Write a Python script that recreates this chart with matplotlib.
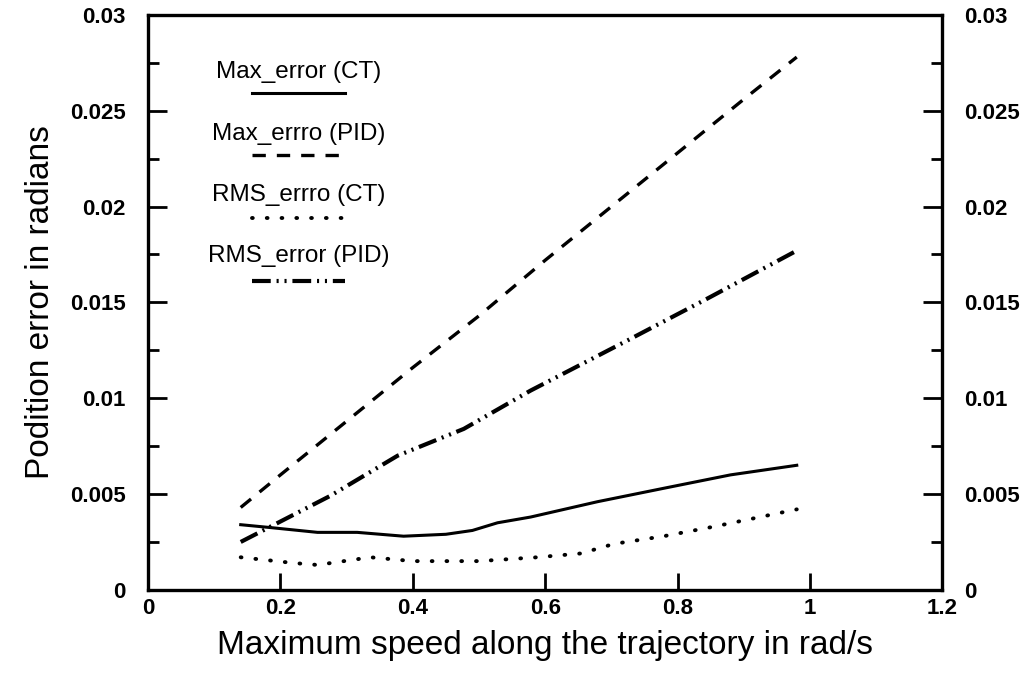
"""
Position error vs maximum trajectory speed for CT and PID controllers.
Saves the figure to out.png.
"""

import matplotlib
matplotlib.use("Agg")
import matplotlib.pyplot as plt
from matplotlib.ticker import MultipleLocator

# speed along the trajectory (rad/s)
speed_max_ct = [0.14, 0.185, 0.256, 0.316, 0.386, 0.45, 0.49, 0.528, 0.578, 0.679, 0.779, 0.88, 0.98]
max_error_ct = [0.0034, 0.00325, 0.0030, 0.0030, 0.0028, 0.0029, 0.0031, 0.0035, 0.0038, 0.0046, 0.0053, 0.0060, 0.0065]

speed_max_pid = [0.14, 0.2, 0.3, 0.4, 0.5, 0.6, 0.7, 0.8, 0.9, 0.98]
max_error_pid = [0.0043, 0.0060, 0.0088, 0.0116, 0.0143, 0.0172, 0.0200, 0.0228, 0.0256, 0.0278]

speed_rms_ct = [0.14, 0.22, 0.256, 0.336, 0.40, 0.50, 0.588, 0.654, 0.704, 0.779, 0.855, 0.98]
rms_error_ct = [0.0017, 0.0014, 0.0013, 0.0017, 0.0015, 0.0015, 0.0017, 0.0019, 0.0024, 0.0028, 0.0033, 0.0042]

speed_rms_pid = [0.14, 0.185, 0.275, 0.377, 0.477, 0.578, 0.729, 0.845, 0.98]
rms_error_pid = [0.0025, 0.0033, 0.0049, 0.0070, 0.0084, 0.0104, 0.0131, 0.0152, 0.0177]

x_ticks = [0, 0.2, 0.4, 0.6, 0.8, 1.0, 1.2]
x_tick_labels = ["0", "0.2", "0.4", "0.6", "0.8", "1", "1.2"]
y_ticks = [0, 0.005, 0.01, 0.015, 0.02, 0.025, 0.03]
y_tick_labels = ["0", "0.005", "0.01", "0.015", "0.02", "0.025", "0.03"]

legend_labels = ["Max_error (CT)", "Max_errro (PID)", "RMS_errro (CT)", "RMS_error (PID)"]
legend_text_y = [0.0270, 0.0238, 0.0206, 0.0174]
legend_line_y = [0.0259, 0.0227, 0.0194, 0.0161]
legend_x = [0.157, 0.298]

FONT = "Liberation Sans"

STYLES = [
    dict(linestyle="-", linewidth=2.2),
    dict(linestyle=(0, (4.0, 3.3)), linewidth=2.4),
    dict(linestyle=(0, (0.2, 3.6)), linewidth=2.8, dash_capstyle="round"),
    dict(linestyle=(0, (4.5, 1.4, 0.5, 1.4, 0.5, 1.4)), linewidth=3.0),
]


def main():
    plt.rcParams["font.family"] = FONT
    fig = plt.figure(figsize=(10.21, 6.78), dpi=100)
    ax = fig.add_axes([0.145, 0.13, 0.778, 0.848])

    series = [
        (speed_max_ct, max_error_ct),
        (speed_max_pid, max_error_pid),
        (speed_rms_ct, rms_error_ct),
        (speed_rms_pid, rms_error_pid),
    ]
    for (xs, ys), style in zip(series, STYLES):
        ax.plot(xs, ys, color="black", **style)

    # hand-made legend: label above a short sample of the line
    for label, ty, ly, style in zip(legend_labels, legend_text_y, legend_line_y, STYLES):
        ax.text(sum(legend_x) / 2, ty, label, ha="center", va="center",
                fontsize=17.5, family=FONT)
        ax.plot(legend_x, [ly, ly], color="black", **style)

    ax.set_xlim(0, 1.2)
    ax.set_ylim(0, 0.03)
    ax.set_xticks(x_ticks, x_tick_labels, fontweight="bold", fontsize=16)
    ax.set_yticks(y_ticks, y_tick_labels, fontweight="bold", fontsize=16)
    ax.yaxis.set_minor_locator(MultipleLocator(0.0025))

    ax.tick_params(axis="y", which="both", direction="in", left=True, right=True,
                   labelleft=True, labelright=True, width=2, pad=16)
    ax.tick_params(axis="y", which="major", length=14)
    ax.tick_params(axis="y", which="minor", length=8)
    ax.tick_params(axis="x", direction="in", top=False, length=12, width=2, pad=6)
    for tick in ax.yaxis.get_major_ticks():
        tick.label2.set_fontweight("bold")
        tick.label2.set_fontsize(16)

    for side in ax.spines.values():
        side.set_linewidth(2.4)

    ax.set_xlabel("Maximum speed along the trajectory in rad/s", fontsize=24, labelpad=8)
    ax.set_ylabel("Podition error in radians", fontsize=24, labelpad=10)

    fig.savefig("out.png", dpi=100)
    plt.close(fig)


if __name__ == "__main__":
    main()
